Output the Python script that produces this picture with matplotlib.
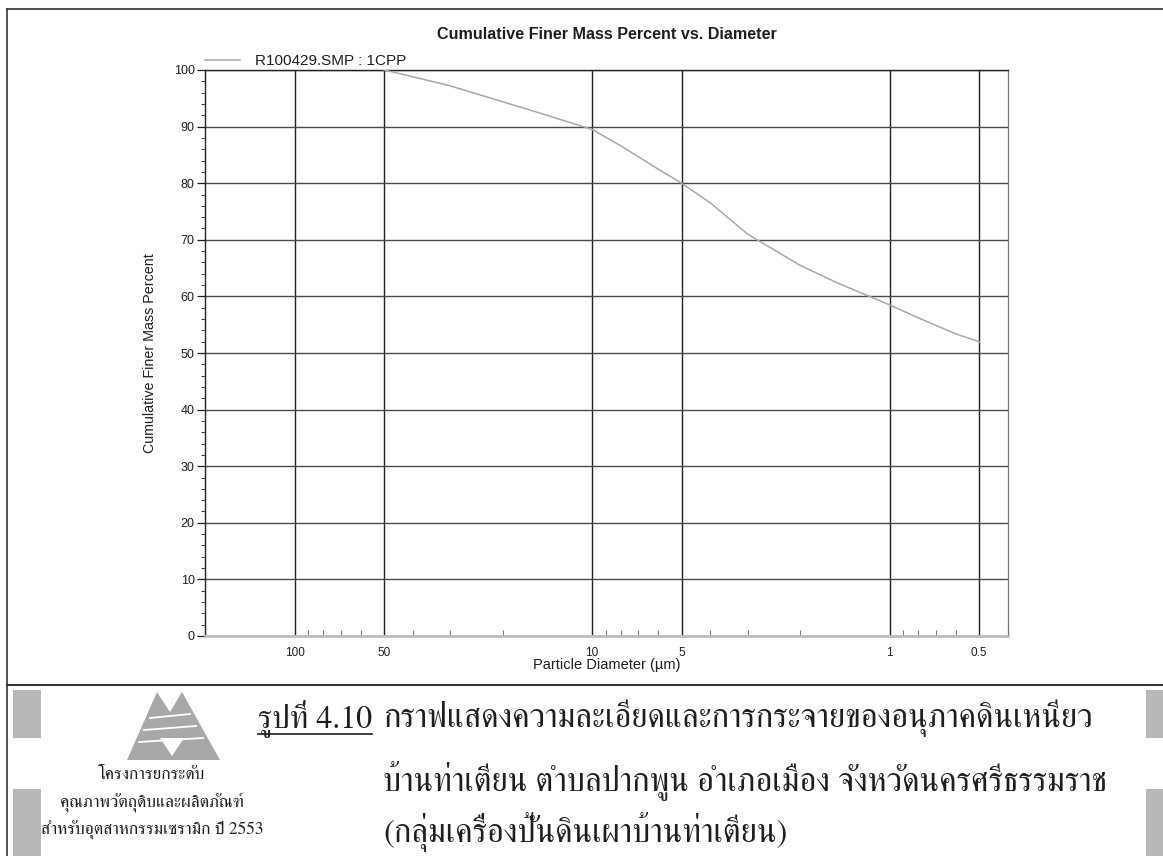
import matplotlib
matplotlib.use("Agg")
import matplotlib.pyplot as plt
from matplotlib.ticker import FixedLocator, FixedFormatter, LogLocator, NullFormatter, MultipleLocator
from matplotlib.patches import Polygon, Rectangle
from matplotlib.lines import Line2D

# Particle size distribution (sedigraph)
diameter_um = [50, 40, 30, 20, 15, 10, 8, 6, 5, 4, 3, 2, 1.5, 1, 0.8, 0.6, 0.5]
finer_pct = [100, 98.8, 97.2, 94.4, 92.4, 89.5, 86.6, 82.5, 80.0, 76.5, 71.0, 65.5, 62.4, 58.5, 56.2, 53.4, 52.0]
series_label = "R100429.SMP : 1CPP"

x_ticks = [100, 50, 10, 5, 1, 0.5]
x_tick_labels = ["100", "50", "10", "5", "1", "0.5"]
y_ticks = list(range(0, 101, 10))

title = "Cumulative Finer Mass Percent vs. Diameter"
x_label = "Particle Diameter (µm)"
y_label = "Cumulative Finer Mass Percent"

caption_head = "รูปที่ 4.10"
caption_lines = [
    "กราฟแสดงความละเอียดและการกระจายของอนุภาคดินเหนียว",
    "บ้านท่าเตียน ตำบลปากพูน อำเภอเมือง จังหวัดนครศรีธรรมราช",
    "(กลุ่มเครื่องปั้นดินเผาบ้านท่าเตียน)",
]
org_lines = [
    "โครงการยกระดับ",
    "คุณภาพวัตถุดิบและผลิตภัณฑ์",
    "สำหรับอุตสาหกรรมเซรามิก ปี 2553",
]

W, H = 1163, 856
sans = ["Liberation Sans", "DejaVu Sans"]
thai = ["FreeSerif", "DejaVu Sans"]
plt.rcParams["font.family"] = sans
ink = "#1e1e1e"


def fx(px):
    return px / W


def fy(py):
    return 1 - py / H


fig = plt.figure(figsize=(W / 100, H / 100), dpi=100)
fig.patch.set_facecolor("white")

ax = fig.add_axes([fx(205), fy(636), fx(1008) - fx(205), fy(70) - fy(636)])
ax.set_xscale("log")
ax.set_xlim(200, 0.4)
ax.set_ylim(0, 100)

ax.plot(diameter_um, finer_pct, color="#a8a8a8", lw=1.1, label=series_label, zorder=3)

ax.xaxis.set_major_locator(FixedLocator(x_ticks))
ax.xaxis.set_major_formatter(FixedFormatter(x_tick_labels))
ax.xaxis.set_minor_locator(LogLocator(base=10, subs=range(2, 10)))
ax.xaxis.set_minor_formatter(NullFormatter())
ax.yaxis.set_major_locator(FixedLocator(y_ticks))
ax.yaxis.set_minor_locator(MultipleLocator(2))

ax.tick_params(axis="x", which="major", length=0, pad=8, labelsize=8.5, colors=ink)
ax.tick_params(axis="x", which="minor", direction="in", length=4, width=0.8, color="#777777")
ax.tick_params(axis="y", which="major", length=6, width=0.9, pad=1.5, labelsize=9, colors=ink)
ax.tick_params(axis="y", which="minor", length=3, width=0.7, color="#444444")

ax.grid(True, axis="y", which="major", color="#4a4a4a", lw=1.0)
ax.grid(True, axis="x", which="major", color="#222222", lw=1.0)

for s in ("left", "top"):
    ax.spines[s].set_color("#222222")
    ax.spines[s].set_linewidth(1.0)
ax.spines["right"].set_color("#777777")
ax.spines["right"].set_linewidth(0.9)
ax.spines["bottom"].set_color("#bdbdbd")
ax.spines["bottom"].set_linewidth(2.0)

ax.set_title(title, fontsize=11.6, fontweight="bold", color=ink, pad=22)
ax.set_xlabel(x_label, fontsize=10.5, color=ink, labelpad=-1)
ax.set_ylabel(y_label, fontsize=10.3, color=ink, labelpad=12)

leg = ax.legend(loc="lower left", bbox_to_anchor=(0.0, 1.003), frameon=False,
                handlelength=2.3, handletextpad=1.0, borderpad=0, borderaxespad=0,
                fontsize=11)
for t in leg.get_texts():
    t.set_color(ink)

# page frame and separator
fig.add_artist(Line2D([fx(7), fx(1163)], [fy(9), fy(9)], color="#333333", lw=1.2))
fig.add_artist(Line2D([fx(7), fx(7)], [fy(9), fy(856)], color="#333333", lw=1.2))
fig.add_artist(Line2D([fx(7), fx(1163)], [fy(685), fy(685)], color="#333333", lw=1.5))

# shaded side bars
for (x0, x1) in ((13, 41), (1146, 1163)):
    for (y0, y1) in ((690, 738), (789, 856)):
        fig.add_artist(Rectangle((fx(x0), fy(y1)), fx(x1) - fx(x0), fy(y0) - fy(y1),
                                 transform=fig.transFigure, facecolor="#b8b8b8",
                                 edgecolor="none"))

# organisation emblem
logo = [(127, 760), (157, 692), (170, 712), (182, 692), (220, 760)]
fig.add_artist(Polygon([(fx(a), fy(b)) for a, b in logo], closed=True,
                       transform=fig.transFigure, facecolor="#a8a8a8", edgecolor="none"))
for yy, xa, xb in ((718, 150, 190), (730, 144, 196), (742, 139, 203)):
    fig.add_artist(Line2D([fx(xa), fx(xb)], [fy(yy), fy(yy - 4)], color="white", lw=1.3))
fig.add_artist(Polygon([(fx(160), fy(738)), (fx(184), fy(738)), (fx(172), fy(756))],
                       closed=True, transform=fig.transFigure, facecolor="white",
                       edgecolor="none"))

# organisation name
for txt, yy in zip(org_lines, (775, 803, 830)):
    fig.text(fx(152), fy(yy), txt, ha="center", va="center", fontsize=12.5,
             family=thai, color=ink)

# figure caption
fig.text(fx(258), fy(718), caption_head, ha="left", va="center", fontsize=23,
         family=thai, color=ink)
fig.add_artist(Line2D([fx(258), fx(372)], [fy(734), fy(734)], color=ink, lw=1.2))
for txt, yy in zip(caption_lines, (718, 780, 832)):
    fig.text(fx(383), fy(yy), txt, ha="left", va="center", fontsize=23.5,
             family=thai, color=ink)

fig.savefig("out.png", dpi=100)
